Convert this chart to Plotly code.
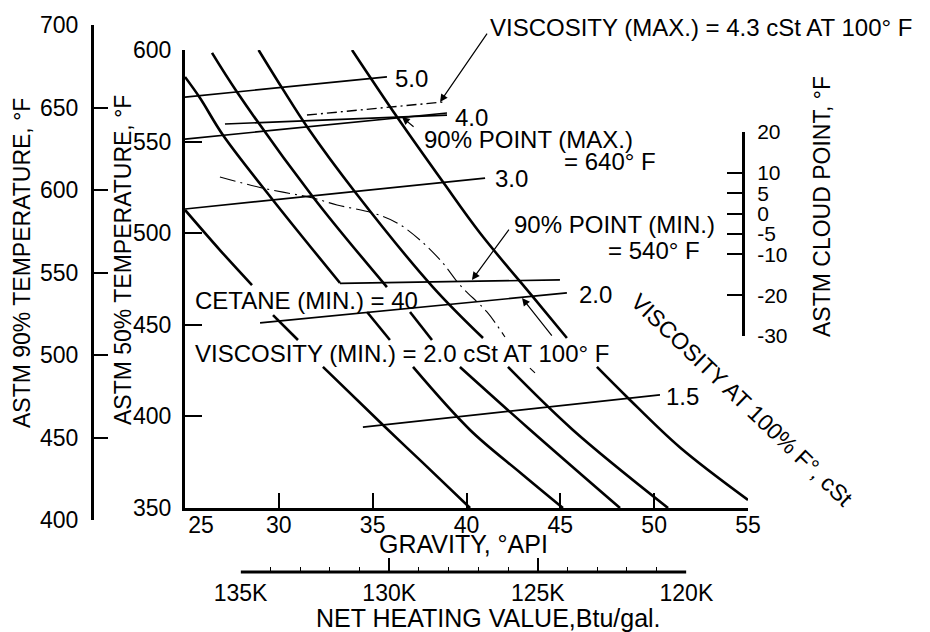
import plotly.graph_objects as go

# ---------------- data ----------------
api_ticks = [25, 30, 35, 40, 45, 50, 55]
api_tick_text = ["\u00a0\u00a0\u00a0\u00a0\u00a025", "30", "35", "40", "45", "50", "55"]
t50_ticks = [350, 400, 450, 500, 550, 600]
t90_ticks = [400, 450, 500, 550, 600, 650, 700]
cloud_ticks = [20, 10, 5, 0, -5, -10, -20, -30]
cloud_tick_text = ["20", "10", "5", "0", "-5", "-10", "-20", "-30"]
heat_ticks = [135, 130, 125, 120]
heat_tick_text = ["135K", "130K", "125K", "120K"]
heat_minor_ticks = [134, 133, 132, 131, 129, 128, 127, 126, 124, 123, 122, 121]

# viscosity lines (cSt at 100 F): API / 50% temperature end points
visc_labels = ["5.0", "4.0", "3.0", "2.0", "1.5"]
visc_api = [[25.0, 35.76], [25.0, 38.96], [25.0, 40.99], [29.0, 45.35], [34.48, 50.31]]
visc_t50 = [[574.3, 585.3], [551.4, 565.6], [513.2, 530.1], [451.0, 467.4], [394.2, 411.7]]
visc_label_api = [36.1, 39.3, 41.4, 45.9, 50.5]
visc_label_t50 = [584.7, 563.4, 529.6, 466.3, 411.1]

# maximum viscosity 4.3 cSt (dash-dot)
visc_max_api = [31.50, 38.75]
visc_max_t50 = [564.5, 571.6]

# 90% point limits
p90_max_api = [27.13, 38.96]
p90_max_t50 = [559.6, 564.5]
p90_min_api = [33.26, 44.98]
p90_min_t50 = [472.6, 474.5]

# diagonal (cetane) curves, None = break for the printed labels
curve1_api = [25.00, 26.86, 28.57, None, 29.69, 31.02, None, 32.35, 35.55, 37.68, 40.19]
curve1_t50 = [512.7, 490.8, 471.7, None, 455.3, 441.7, None, 427.0, 395.3, 374.6, 350.0]
curve2_api = [25.00, 25.80, 27.02, 29.64, 33.26, None, 34.70, 35.92, None, 37.15, 40.19, 42.90, 45.14]
curve2_t50 = [585.3, 573.8, 553.6, 518.7, 472.8, None, 457.0, 441.7, None, 427.0, 392.6, 369.0, 350.0]
curve3_api = [26.44, 27.77, 31.82, 35.76, None, 36.99, 38.16, None, 39.65, 43.28, 48.18]
curve3_t50 = [598.4, 577.1, 519.8, 470.6, None, 457.0, 441.7, None, 427.0, 393.7, 350.0]
curve4_api = [28.92, 30.17, 31.55, 34.06, 38.21, 40.88, None, 42.21, 45.67, 50.74]
curve4_t50 = [600.0, 579.3, 557.4, 522.5, 470.6, 442.8, None, 427.0, 392.6, 350.0]
curve5_api = [33.90, 36.30, 38.75, 40.72, 43.54, 45.35, None, 46.95, 48.55, 51.38, 55.00]
curve5_t50 = [600.0, 563.4, 527.9, 500.1, 465.2, 442.8, None, 427.0, 410.6, 383.0, 354.4]

# thin dash-dot boundary curve
bound_api = [26.86, 29.10, 31.82, 33.10, 35.02, 36.30, 37.52, 38.69, 39.65, 41.09, 42.05, None, 43.38, 43.65]
bound_t50 = [530.7, 524.7, 519.2, 515.4, 511.0, 505.6, 496.3, 484.3, 471.7, 457.0, 443.3, None, 426.4, 423.7]

# pointer arrows (tail -> head)
arrow_tail_api = [41.15, 37.26, 42.32, 44.61]
arrow_tail_t50 = [609.8, 557.4, 502.8, 443.3]
arrow_head_api = [38.59, 36.56, 40.29, 42.96]
arrow_head_t50 = [571.6, 563.4, 474.5, 464.6]

# ---------------- figure ----------------
W, H = 930, 632
FONT = "Liberation Sans, Arial, Helvetica, sans-serif"
BLACK = "black"
HEAT_AXIS_Y = 1 - 572 / H

fig = go.Figure()

def line(x, y, width=2.5, dash=None, shape="linear"):
    fig.add_trace(go.Scatter(x=x, y=y, mode="lines", xaxis="x", yaxis="y",
                             line=dict(color=BLACK, width=width, dash=dash, shape=shape),
                             connectgaps=False, hoverinfo="skip", showlegend=False))

for cx, cy in [(curve1_api, curve1_t50), (curve2_api, curve2_t50), (curve3_api, curve3_t50),
               (curve4_api, curve4_t50), (curve5_api, curve5_t50)]:
    line(cx, cy, width=2.6, shape="spline")

for vx, vy in zip(visc_api, visc_t50):
    line(vx, vy, width=1.7)

line(p90_max_api, p90_max_t50, width=1.7)
line(p90_min_api, p90_min_t50, width=1.7)
line(visc_max_api, visc_max_t50, width=1.4, dash="10px,4px,2px,4px")
line(bound_api, bound_t50, width=1.1, dash="16px,5px,2px,5px", shape="spline")

# dummy traces so the extra scales are drawn
fig.add_trace(go.Scatter(x=[None], y=[None], xaxis="x", yaxis="y2", mode="markers",
                         hoverinfo="skip", showlegend=False))
fig.add_trace(go.Scatter(x=[None], y=[None], xaxis="x", yaxis="y3", mode="markers",
                         hoverinfo="skip", showlegend=False))
fig.add_trace(go.Scatter(x=[None], y=[None], xaxis="x2", yaxis="y", mode="markers",
                         hoverinfo="skip", showlegend=False))

# heating-value scale line, drawn on its own axis between its end ticks
fig.add_shape(type="line", xref="x2", yref="paper",
              x0=heat_ticks[0], x1=heat_ticks[-1], y0=HEAT_AXIS_Y, y1=HEAT_AXIS_Y,
              line=dict(color=BLACK, width=3))

ann = []
def text(t, x, y, xref="x", yref="y", xanchor="left", yanchor="middle", angle=0, size=24):
    ann.append(dict(text=t, x=x, y=y, xref=xref, yref=yref, xanchor=xanchor,
                    yanchor=yanchor, textangle=angle, showarrow=False,
                    font=dict(family=FONT, size=size, color=BLACK)))

for lab, lx, ly in zip(visc_labels, visc_label_api, visc_label_t50):
    text(lab, lx, ly)

text("90% POINT (MAX.)", 37.63, 550.9)
text("= 640° F", 45.09, 538.9)
text("90% POINT (MIN.)", 42.42, 504.5)
text("= 540° F", 47.45, 490.8)
text("CETANE (MIN.) = 40", 25.45, 463.5)
text("VISCOSITY (MIN.) = 2.0 cSt AT 100° F", 25.45, 434.6)
text("VISCOSITY (MAX.) = 4.3 cSt AT 100° F", 488 / W, 1 - 27 / H, xref="paper", yref="paper")
text("VISCOSITY AT 100% F°, cSt", 742 / W, 1 - 400 / H, xref="paper", yref="paper",
     xanchor="center", angle=43.7, size=23)

# axis titles
text("ASTM 90% TEMPERATURE, °F", 22 / W, 1 - 263 / H, "paper", "paper", "center", angle=-90, size=23)
text("ASTM 50% TEMPERATURE, °F", 123 / W, 1 - 260 / H, "paper", "paper", "center", angle=-90, size=23)
text("ASTM CLOUD POINT, °F", 822 / W, 1 - 207 / H, "paper", "paper", "center", angle=-90, size=23)
text("GRAVITY, °API", 463 / W, 1 - 544 / H, "paper", "paper", "center", size=25)
text("NET HEATING VALUE,Btu/gal.", 488 / W, 1 - 618 / H, "paper", "paper", "center", size=25)

for tx, ty, hx, hy in zip(arrow_tail_api, arrow_tail_t50, arrow_head_api, arrow_head_t50):
    ann.append(dict(x=hx, y=hy, ax=tx, ay=ty, xref="x", yref="y", axref="x", ayref="y",
                    text="", showarrow=True, arrowhead=2, arrowsize=1.3, arrowwidth=1.2,
                    arrowcolor=BLACK, standoff=0, startstandoff=0))

def axis_style(size=23, showline=True):
    return dict(showline=showline, linecolor=BLACK, linewidth=3, ticks="inside",
                tickcolor=BLACK, tickwidth=1.6, showgrid=False, zeroline=False,
                fixedrange=True, tickfont=dict(family=FONT, size=size, color=BLACK))

fig.update_layout(
    width=W, height=H, margin=dict(l=0, r=0, t=0, b=0, autoexpand=False),
    paper_bgcolor="white", plot_bgcolor="rgba(0,0,0,0)", showlegend=False,
    font=dict(family=FONT, size=23, color=BLACK),
    xaxis=dict(domain=[185 / W, 748 / W], range=[25, 55], anchor="y",
               tickmode="array", tickvals=api_ticks, ticktext=api_tick_text,
               ticklen=15, ticklabelstandoff=-6, **axis_style()),
    yaxis=dict(domain=[1 - 508 / H, 1 - 50 / H], range=[350, 600], anchor="x",
               tickmode="array", tickvals=t50_ticks, ticklen=17,
               ticklabelstandoff=6, **axis_style()),
    yaxis2=dict(domain=[1 - 520 / H, 1 - 25 / H], range=[400, 700], anchor="free",
                position=92 / W, side="left", tickmode="array", tickvals=t90_ticks,
                ticklen=14, ticklabelstandoff=8, **axis_style()),
    yaxis3=dict(domain=[1 - 336 / H, 1 - 132 / H], range=[-30, 20], anchor="free",
                position=743 / W, side="right", tickmode="array", tickvals=cloud_ticks,
                ticktext=cloud_tick_text, ticklen=15, ticklabelstandoff=8, **axis_style(21)),
    xaxis2=dict(domain=[240.6 / W, 686.4 / W], range=[135, 120], anchor="free",
                position=HEAT_AXIS_Y, side="bottom", tickmode="array", tickvals=heat_ticks,
                ticktext=heat_tick_text, ticklen=14, ticklabelstandoff=5,
                minor=dict(ticks="inside", ticklen=5, tickmode="array",
                           tickvals=heat_minor_ticks, tickcolor=BLACK, tickwidth=1),
                **axis_style(showline=False)),
    annotations=ann,
)

fig.write_html("out.html")
